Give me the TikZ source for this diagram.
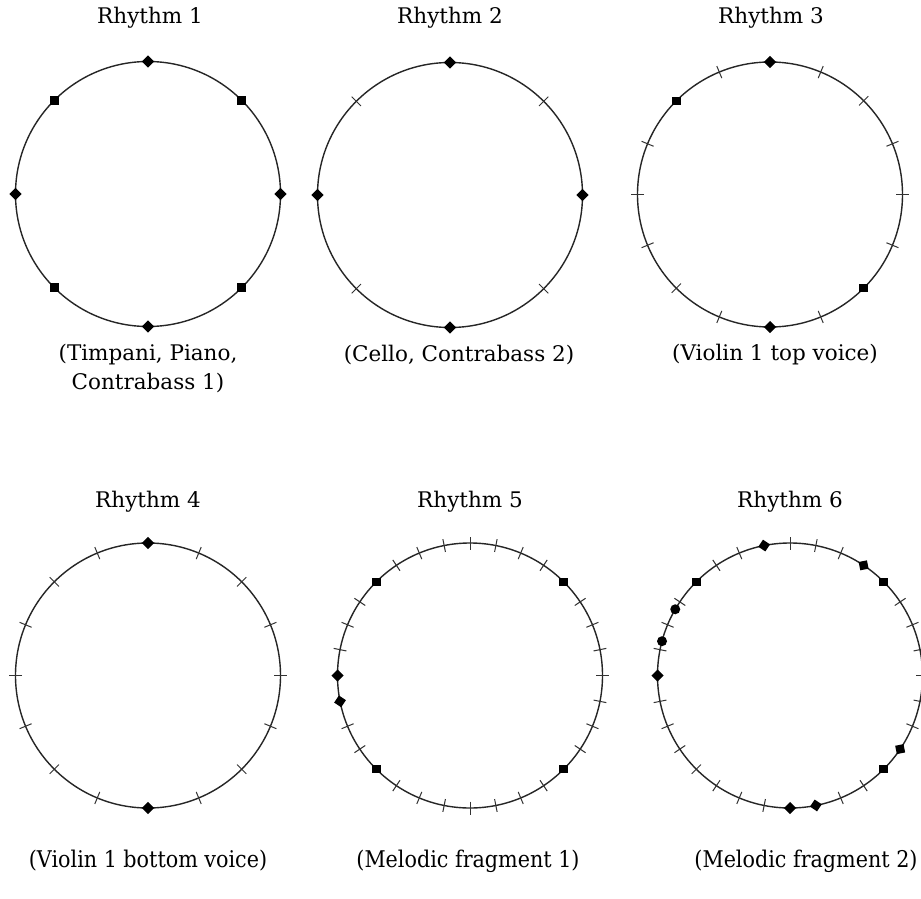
\documentclass[tikz,border=0pt]{standalone}
\usepackage{fontspec}
\setmainfont{DejaVu Serif}
\newfontfamily\condfont{DejaVu Serif Condensed}
\tikzset{
  circ/.style={draw=black!85, line width=1.4pt},
  tk/.style={draw=black!80, line width=1pt},
  mk/.style={rectangle, fill=black, inner sep=0pt, minimum size=8.5pt},
  dotmk/.style={circle, fill=black, inner sep=0pt, minimum size=10pt},
  lbl/.style={font=\fontsize{21.5}{29}\selectfont, align=center, inner sep=0pt},
  lblc/.style={font=\condfont\fontsize{23}{29}\selectfont, align=center, inner sep=0pt}
}
\begin{document}
\begin{tikzpicture}[x=1pt,y=1pt]
\useasboundingbox (0,0) rectangle (921,-899);
\fill[white] (0,0) rectangle (921,-899);
\def\R{132.5}
% Rhythm 1
\begin{scope}[shift={(148,-194)}]
  \draw[circ] (0,0) circle (\R);
  \foreach \a [count=\k] in {0,45,...,315} \node[mk,rotate=\a+45] (ra\k) at (\a:\R) {};
\end{scope}
% Rhythm 2
\begin{scope}[shift={(450,-195)}]
  \draw[circ] (0,0) circle (\R);
  \foreach \a in {45,135,225,315} \draw[tk] (\a:\R-6.5) -- (\a:\R+6.5);
  \foreach \a [count=\k] in {0,90,180,270} \node[mk,rotate=\a+45] (rb\k) at (\a:\R) {};
\end{scope}
% Rhythm 3
\begin{scope}[shift={(770,-194.5)}]
  \draw[circ] (0,0) circle (\R);
  \foreach \a in {0,22.5,45,67.5,112.5,157.5,180,202.5,225,247.5,292.5,337.5} \draw[tk] (\a:\R-6.5) -- (\a:\R+6.5);
  \foreach \a [count=\k] in {90,135,270,315} \node[mk,rotate=\a+45] (rc\k) at (\a:\R) {};
\end{scope}
% Rhythm 4
\begin{scope}[shift={(148,-675.5)}]
  \draw[circ] (0,0) circle (\R);
  \foreach \a in {0,22.5,45,67.5,112.5,135,157.5,180,202.5,225,247.5,292.5,315,337.5} \draw[tk] (\a:\R-6.5) -- (\a:\R+6.5);
  \foreach \a [count=\k] in {90,270} \node[mk,rotate=\a+45] (rd\k) at (\a:\R) {};
\end{scope}
% Rhythm 5
\begin{scope}[shift={(470,-675.5)}]
  \draw[circ] (0,0) circle (\R);
  \foreach \a in {0,11.25,22.5,33.75,56.25,67.5,78.75,90,101.25,112.5,123.75,146.25,157.5,168.75,202.5,213.75,236.25,247.5,258.75,270,281.25,292.5,303.75,326.25,337.5,348.75} \draw[tk] (\a:\R-6.5) -- (\a:\R+6.5);
  \foreach \a [count=\k] in {45,135,180,191.25,225,315} \node[mk,rotate=\a+45] (re\k) at (\a:\R) {};
\end{scope}
% Rhythm 6
\begin{scope}[shift={(790,-675.5)}]
  \draw[circ] (0,0) circle (\R);
  \foreach \a in {0,11.25,22.5,33.75,67.5,78.75,90,112.5,123.75,146.25,157.5,168.75,191.25,202.5,213.75,225,236.25,247.5,258.75,292.5,303.75,337.5,348.75} \draw[tk] (\a:\R-6.5) -- (\a:\R+6.5);
  \foreach \a [count=\k] in {45,56.25,101.25,135,180,270,281.25,315,326.25} \node[mk,rotate=\a+45] (rf\k) at (\a:\R) {};
  \foreach \a [count=\k] in {150,165} \node[dotmk] (rg\k) at (\a:\R) {};
\end{scope}
% Titles
\node[lbl] (t1) at (150,-18) {Rhythm 1};
\node[lbl] (t2) at (450,-18) {Rhythm 2};
\node[lbl] (t3) at (771,-18) {Rhythm 3};
\node[lbl] (t4) at (148,-502) {Rhythm 4};
\node[lbl] (t5) at (470,-502) {Rhythm 5};
\node[lbl] (t6) at (790,-502) {Rhythm 6};
% Captions
\node[lbl, anchor=north] (c1) at (148,-344) {(Timpani, Piano,\\Contrabass 1)};
\node[lbl] (c2) at (459,-355) {(Cello, Contrabass 2)};
\node[lbl] (c3) at (775,-355) {(Violin 1 top voice)};
\node[lblc] (c4) at (148,-861) {(Violin 1 bottom voice)};
\node[lblc] (c5) at (468,-861) {(Melodic fragment 1)};
\node[lblc] (c6) at (806,-861) {(Melodic fragment 2)};
\end{tikzpicture}
\end{document}
